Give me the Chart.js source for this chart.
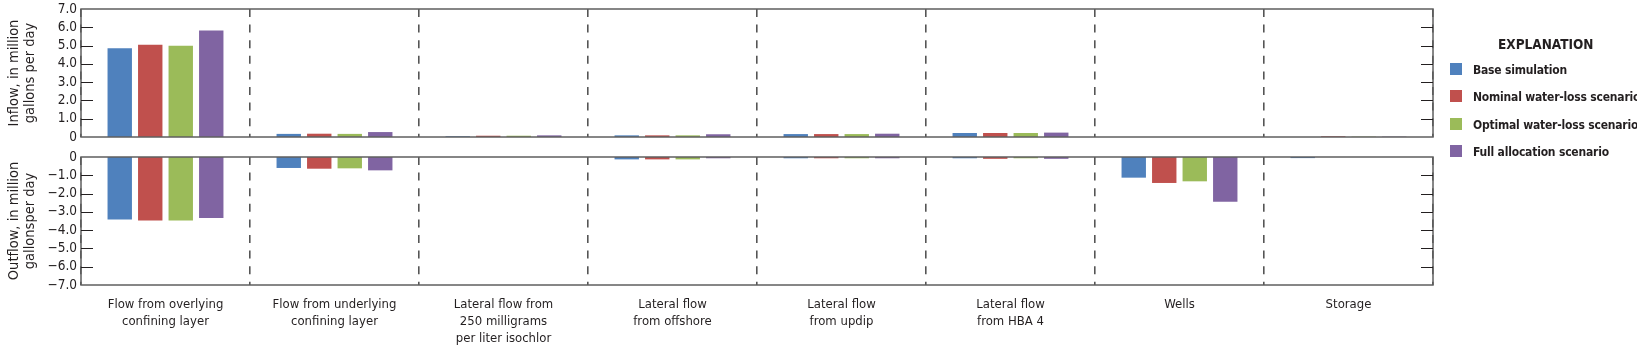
<!DOCTYPE html>
<html lang="en">
<head>
<meta charset="UTF-8">
<title>Flow budget</title>
<script src="https://cdn.jsdelivr.net/npm/chart.js"></script>
<style>
    body { margin: 0; background: #fff; }
    #wrap { position: relative; width: 1637px; height: 347px; overflow: hidden;
            font-family: "Liberation Sans Narrow", "DejaVu Sans Condensed", "Roboto", sans-serif; }
    #topBox { position: absolute; left: 0; top: 0; width: 1637px; height: 147px; }
    #botBox { position: absolute; left: 0; top: 147px; width: 1637px; height: 200px; }
    #legend { position: absolute; left: 1450px; top: 34px; width: 190px; color: #231f20; }
    #legend .ttl { font-weight: bold; font-size: 13.5px; margin-left: 48px; height: 29px; line-height: 20px; }
    #legend .row { height: 27.3px; line-height: 14px; font-weight: bold; font-size: 12px; letter-spacing: -0.2px; white-space: nowrap; }
    #legend .sw { display: inline-block; width: 12px; height: 12px; vertical-align: -1px; margin-right: 11px; }
</style>
</head>
<body>
<div id="wrap">
    <div id="topBox"><canvas id="inflowChart"></canvas></div>
    <div id="botBox"><canvas id="outflowChart"></canvas></div>
    <div id="legend"></div>
</div>
<script>
// categories (multi-line labels)
const categories = [
    ['Flow from overlying', 'confining layer'],
    ['Flow from underlying', 'confining layer'],
    ['Lateral flow from', '250 milligrams', 'per liter isochlor'],
    ['Lateral flow', 'from offshore'],
    ['Lateral flow', 'from updip'],
    ['Lateral flow', 'from HBA 4'],
    ['Wells'],
    ['Storage']
];
const scenarios = ['Base simulation', 'Nominal water-loss scenario', 'Optimal water-loss scenario', 'Full allocation scenario'];
const colors = ['#4f81bd', '#c0504d', '#9bbb59', '#8064a2'];

// inflow, million gallons per day
const inBase     = [4.85, 0.17, 0.04, 0.09, 0.16, 0.22, 0, 0];
const inNominal  = [5.04, 0.18, 0.07, 0.09, 0.16, 0.22, 0, 0.04];
const inOptimal  = [4.99, 0.17, 0.07, 0.09, 0.16, 0.22, 0, 0.02];
const inFull     = [5.83, 0.27, 0.09, 0.15, 0.18, 0.24, 0, 0.02];

// outflow, million gallons per day
const outBase    = [-3.42, -0.60, 0, -0.13, -0.07, -0.07, -1.13, -0.06];
const outNominal = [-3.47, -0.64, 0, -0.13, -0.07, -0.10, -1.42, 0];
const outOptimal = [-3.47, -0.62, 0, -0.13, -0.07, -0.07, -1.33, 0];
const outFull    = [-3.33, -0.73, 0, -0.07, -0.07, -0.10, -2.45, 0];

const inTicks = [0, 1, 2, 3, 4, 5, 6, 7];
const outTicks = [0, -1, -2, -3, -4, -5, -6, -7];

const FONT = '"Liberation Sans Narrow", "DejaVu Sans Condensed", "Roboto", sans-serif';
Chart.defaults.font.family = FONT;
Chart.defaults.color = '#231f20';

function fmt(v) {
    if (v === 0) return '0';
    return v.toFixed(1).replace('-', '\u2212');
}

// frame around plot + short inward ticks on both sides
const framePlugin = {
    id: 'frame',
    afterDraw(chart) {
        const {ctx, chartArea: a, scales: {y}} = chart;
        ctx.save();
        ctx.strokeStyle = '#5f5f5f';
        ctx.lineWidth = 1.5;
        ctx.strokeRect(a.left, a.top, a.right - a.left, a.bottom - a.top);
        ctx.strokeStyle = '#231f20';
        ctx.lineWidth = 1;
        y.ticks.forEach(t => {
            if (t.value === y.min || t.value === y.max) return;
            const py = Math.round(y.getPixelForValue(t.value)) + 0.5;
            ctx.beginPath();
            ctx.moveTo(a.left, py); ctx.lineTo(a.left + 12, py);
            ctx.moveTo(a.right - 12, py); ctx.lineTo(a.right, py);
            ctx.stroke();
        });
        ctx.restore();
    }
};

function makeChart(id, series, ticks, title, isBottom) {
    const lo = Math.min(...ticks), hi = Math.max(...ticks);
    return new Chart(document.getElementById(id), {
        type: 'bar',
        data: {
            labels: categories,
            datasets: series.map((d, i) => ({
                label: scenarios[i],
                data: d,
                backgroundColor: colors[i],
                borderWidth: 0,
                categoryPercentage: 0.722,
                barPercentage: 0.8
            }))
        },
        options: {
            responsive: true,
            maintainAspectRatio: false,
            animation: false,
            layout: { padding: { left: 0, right: 204, top: isBottom ? 10 : 9, bottom: isBottom ? 0 : 10 } },
            plugins: { legend: { display: false }, tooltip: { enabled: false } },
            scales: {
                x: {
                    offset: true,
                    border: { display: false, dash: [8, 7.6] },
                    grid: {
                        offset: true,
                        drawTicks: false,
                        color: '#555',
                        lineWidth: 1.6
                    },
                    ticks: {
                        display: isBottom,
                        padding: 11,
                        maxRotation: 0,
                        autoSkip: false,
                        font: { size: 13, lineHeight: 1.3 }
                    },
                    afterFit: s => { s.height = isBottom ? 62 : 0; }
                },
                y: {
                    min: lo,
                    max: hi,
                    border: { display: false },
                    grid: { display: false, drawTicks: false },
                    afterBuildTicks: s => { s.ticks = ticks.map(v => ({ value: v })); },
                    ticks: {
                        padding: 4,
                        autoSkip: false,
                        font: { size: 13.5 },
                        callback: v => fmt(v)
                    },
                    title: {
                        display: true,
                        text: title,
                        font: { size: 14.5, lineHeight: 1.1 },
                        padding: { top: 6, bottom: 0 }
                    },
                    afterFit: s => { s.width = 81; s.paddingTop = 0; s.paddingBottom = 0; }
                }
            }
        },
        plugins: [framePlugin]
    });
}

makeChart('inflowChart', [inBase, inNominal, inOptimal, inFull], inTicks,
    ['Inflow, in million', 'gallons per day'], false);
makeChart('outflowChart', [outBase, outNominal, outOptimal, outFull], outTicks,
    ['Outflow, in million', 'gallonsper day'], true);

// explanation box
const legend = document.getElementById('legend');
let html = '<div class="ttl">EXPLANATION</div>';
scenarios.forEach((s, i) => {
    html += '<div class="row"><span class="sw" style="background:' + colors[i] + '"></span>' + s + '</div>';
});
legend.innerHTML = html;
</script>
</body>
</html>
